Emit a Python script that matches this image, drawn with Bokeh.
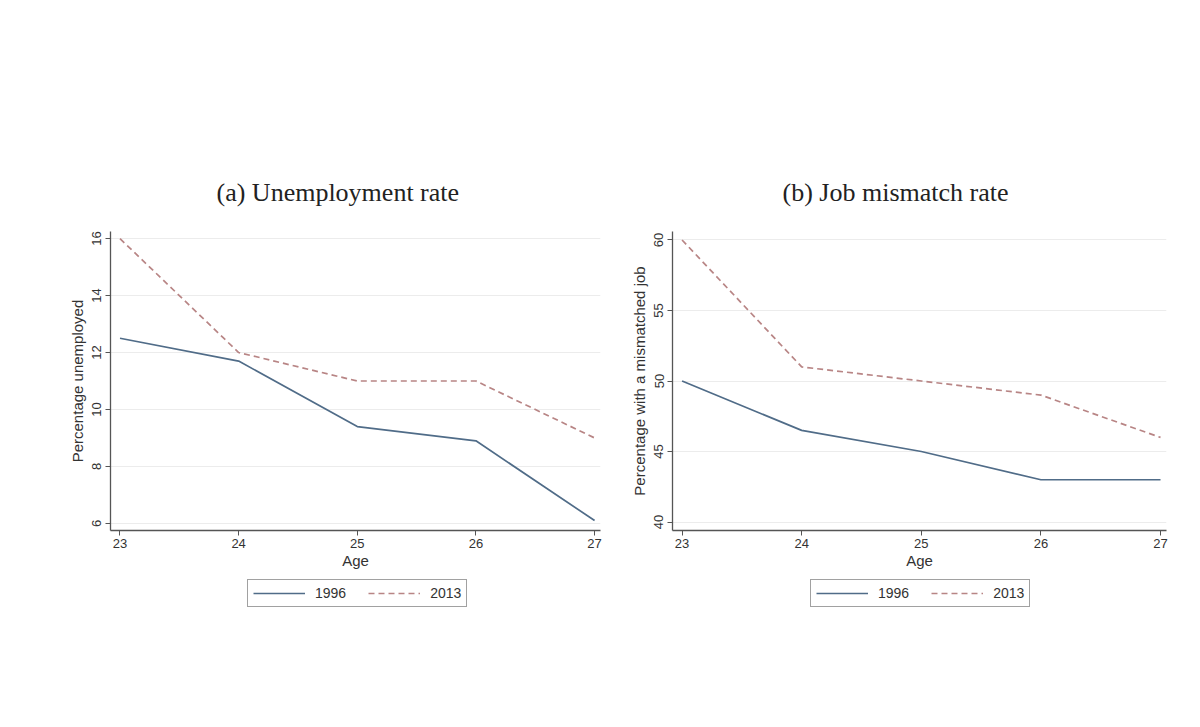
from bokeh.plotting import figure
from bokeh.layouts import row, column
from bokeh.models import Legend, LegendItem, FixedTicker
from bokeh.embed import file_html
from bokeh.resources import INLINE

ages = [23, 24, 25, 26, 27]
unemp_1996 = [12.5, 11.7, 9.4, 8.9, 6.1]
unemp_2013 = [16.0, 12.0, 11.0, 11.0, 9.0]
mism_1996 = [50.0, 46.5, 45.0, 43.0, 43.0]
mism_2013 = [60.0, 51.0, 50.0, 49.0, 46.0]
unemp_ticks = [6, 8, 10, 12, 14, 16]
mism_ticks = [40, 45, 50, 55, 60]
series_labels = ["1996", "2013"]
titles = ["(a) Unemployment rate", "(b) Job mismatch rate"]
ylabels = ["Percentage unemployed", "Percentage with a mismatched job"]

C1996 = "#506c88"
C2013 = "#b88585"
AXC = "#555555"
SANS = "Liberation Sans"
DASH = "6 4"


def make(title, ylabel, y96, y13, yticks, yr, left_border, fw, right_border,
         title_offset, legend_x):
    p = figure(frame_width=fw, frame_height=299,
               x_range=(22.92, 27.05), y_range=yr,
               output_backend="svg", toolbar_location=None,
               min_border_left=left_border, min_border_right=right_border,
               min_border_top=231, min_border_bottom=40,
               background_fill_color="white", border_fill_color="white")
    p.outline_line_color = None
    p.title.text = title
    p.title.text_font = "Liberation Serif"
    p.title.text_font_size = "26px"
    p.title.text_font_style = "normal"
    p.title.align = "left"
    p.title.offset = title_offset
    p.title.text_color = "#222222"
    p.title.standoff = 50

    p.xaxis.ticker = FixedTicker(ticks=ages)
    p.yaxis.ticker = FixedTicker(ticks=yticks)
    for ax in (p.xaxis[0], p.yaxis[0]):
        ax.axis_line_color = AXC
        ax.axis_line_width = 1.3
        ax.major_tick_line_color = AXC
        ax.major_tick_out = 5
        ax.major_tick_in = 0
        ax.minor_tick_line_color = None
        ax.major_label_text_font = SANS
        ax.major_label_text_font_size = "13px"
        ax.major_label_text_color = "#333333"
        ax.axis_label_text_font = SANS
        ax.axis_label_text_font_size = "15px"
        ax.axis_label_text_font_style = "normal"
        ax.axis_label_text_color = "#333333"
    p.xaxis.axis_label = "Age"
    p.xaxis.axis_label_standoff = 1
    p.xaxis.major_label_standoff = 3
    p.yaxis.axis_label = ylabel
    p.yaxis.major_label_orientation = "vertical"
    p.yaxis.major_label_standoff = 4
    p.yaxis.axis_label_standoff = 4

    p.xgrid.grid_line_color = None
    p.ygrid.grid_line_color = "#ececec"
    p.ygrid.grid_line_width = 1

    p.line(ages, y96, line_color=C1996, line_width=1.7)
    p.line(ages, y13, line_color=C2013, line_width=1.7, line_dash=DASH)

    # legend strip below the plot; its line renderers lie outside its view,
    # only their legend keys are visible
    lf = figure(width=left_border + fw + right_border, height=50,
                x_range=(0, 1), y_range=(0, 1),
                x_axis_location=None, y_axis_location=None,
                output_backend="svg", toolbar_location=None,
                min_border=0, min_border_left=0, min_border_right=0,
                min_border_top=0, min_border_bottom=0,
                background_fill_color="white", border_fill_color="white")
    lf.outline_line_color = None
    lf.xgrid.visible = False
    lf.ygrid.visible = False
    k1 = lf.line(ages, y96, line_color=C1996, line_width=1.7)
    k2 = lf.line(ages, y13, line_color=C2013, line_width=1.7, line_dash=DASH)
    leg = Legend(items=[LegendItem(label=series_labels[0], renderers=[k1]),
                        LegendItem(label=series_labels[1], renderers=[k2])],
                 orientation="horizontal", location=(legend_x, 14))
    leg.glyph_width = 52
    leg.glyph_height = 14
    leg.label_text_font = SANS
    leg.label_text_font_size = "14px"
    leg.label_text_color = "#333333"
    leg.border_line_color = "#444444"
    leg.border_line_width = 1.2
    leg.background_fill_color = "white"
    leg.padding = 5
    leg.spacing = 22
    leg.margin = 0
    leg.label_standoff = 10
    lf.add_layout(leg, "center")
    return column(p, lf)


c1 = make(titles[0], ylabels[0], unemp_1996, unemp_2013, unemp_ticks,
          (5.75, 16.25), 110, 490, 8, 106, 137)
c2 = make(titles[1], ylabels[1], mism_1996, mism_2013, mism_ticks,
          (39.4, 60.6), 64, 494, 10, 110, 138)

layout = row(c1, c2)
open("out.html", "w").write(file_html(layout, INLINE))
